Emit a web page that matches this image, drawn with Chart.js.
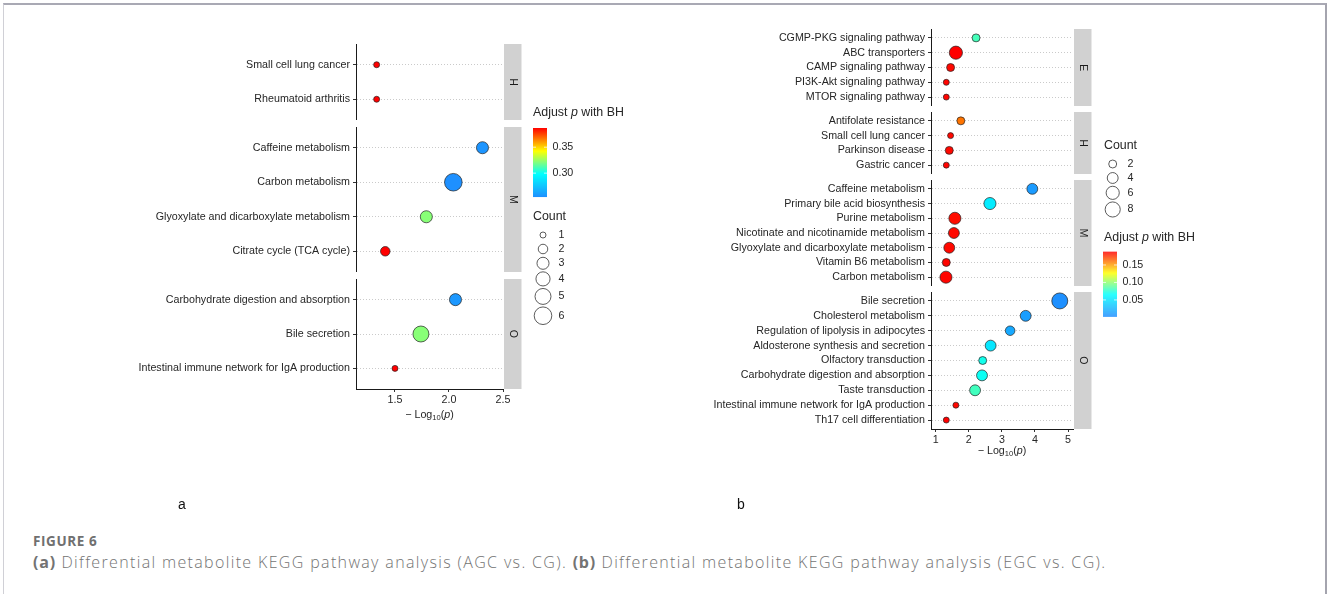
<!DOCTYPE html>
<html>
<head>
<meta charset="utf-8">
<title>Differential metabolite KEGG pathway analysis</title>
<script src="https://cdn.jsdelivr.net/npm/chart.js"></script>
<style>
  body { margin: 0; background: #fff; width: 1328px; height: 594px; overflow: hidden; position: relative; }
  .frame { position: absolute; left: 3px; top: 3px; width: 1321px; height: 640px;
           border-top: 2px solid #a9a9b4; border-left: 1.5px solid #d0d0d6; border-right: 2px solid #a4a4ae; }
  canvas { position: absolute; }
  .fig { position: absolute; left: 33px; top: 532px; font-family: "Open Sans", sans-serif; font-weight: 700;
         font-size: 13.5px; letter-spacing: 0.6px; color: #707070; }
  .cap { position: absolute; left: 33px; top: 551px; font-family: "Open Sans", sans-serif; font-size: 16px;
         font-weight: 300; letter-spacing: 1.35px; color: #737373; white-space: nowrap; }
  .cap b { font-weight: 700; letter-spacing: 0.8px; }
</style>
</head>
<body>
<div class="frame"></div>
<div class="fig">FIGURE 6</div>
<div class="cap"><b>(a)</b> Differential metabolite KEGG pathway analysis (AGC vs. CG). <b>(b)</b> Differential metabolite KEGG pathway analysis (EGC vs. CG).</div>

<script>
// ---- panel a : AGC vs. CG
const aFacets = ['H', 'M', 'O'];
const aPathways = ['Small cell lung cancer', 'Rheumatoid arthritis',
  'Caffeine metabolism', 'Carbon metabolism', 'Glyoxylate and dicarboxylate metabolism', 'Citrate cycle (TCA cycle)',
  'Carbohydrate digestion and absorption', 'Bile secretion', 'Intestinal immune network for IgA production'];
const aClass = ['H', 'H', 'M', 'M', 'M', 'M', 'O', 'O', 'O'];
const aLogP = [1.33, 1.33, 2.31, 2.04, 1.79, 1.41, 2.06, 1.74, 1.50];
const aCount = [1, 1, 3, 6, 3, 2, 3, 5, 1];
const aPadj = [0.387, 0.387, 0.256, 0.254, 0.322, 0.387, 0.257, 0.322, 0.387];
const aXTicks = [1.5, 2.0, 2.5];
const aColorTicks = [0.30, 0.35];
const aCountTicks = [1, 2, 3, 4, 5, 6];

// ---- panel b : EGC vs. CG
const bFacets = ['E', 'H', 'M', 'O'];
const bPathways = ['CGMP-PKG signaling pathway', 'ABC transporters', 'CAMP signaling pathway',
  'PI3K-Akt signaling pathway', 'MTOR signaling pathway',
  'Antifolate resistance', 'Small cell lung cancer', 'Parkinson disease', 'Gastric cancer',
  'Caffeine metabolism', 'Primary bile acid biosynthesis', 'Purine metabolism',
  'Nicotinate and nicotinamide metabolism', 'Glyoxylate and dicarboxylate metabolism',
  'Vitamin B6 metabolism', 'Carbon metabolism',
  'Bile secretion', 'Cholesterol metabolism', 'Regulation of lipolysis in adipocytes',
  'Aldosterone synthesis and secretion', 'Olfactory transduction', 'Carbohydrate digestion and absorption',
  'Taste transduction', 'Intestinal immune network for IgA production', 'Th17 cell differentiation'];
const bClass = ['E', 'E', 'E', 'E', 'E', 'H', 'H', 'H', 'H', 'M', 'M', 'M', 'M', 'M', 'M', 'M',
  'O', 'O', 'O', 'O', 'O', 'O', 'O', 'O', 'O'];
const bLogP = [2.22, 1.61, 1.45, 1.32, 1.32, 1.76, 1.45, 1.41, 1.32,
  3.92, 2.64, 1.58, 1.55, 1.41, 1.32, 1.31,
  4.75, 3.72, 3.25, 2.66, 2.42, 2.40, 2.19, 1.61, 1.32];
const bCount = [2, 6, 2, 1, 1, 2, 1, 2, 1, 4, 5, 5, 4, 4, 2, 5, 9, 4, 3, 4, 2, 4, 4, 1, 1];
const bPadj = [0.082, 0.188, 0.186, 0.187, 0.187, 0.160, 0.186, 0.186, 0.187,
  0.010, 0.055, 0.185, 0.186, 0.186, 0.187, 0.187,
  0.004, 0.012, 0.018, 0.052, 0.070, 0.068, 0.081, 0.186, 0.188];
const bXTicks = [1, 2, 3, 4, 5];
const bColorTicks = [0.05, 0.10, 0.15];
const bCountTicks = [2, 4, 6, 8];

const FAMILY = '"Liberation Sans", Arial, Helvetica, sans-serif';
const TXT = '#262626';
const RAMP = [[30, 144, 255], [0, 255, 255], [255, 255, 0], [255, 0, 0]];

function rampColor(t) {
  t = Math.max(0, Math.min(1, t));
  const s = t * (RAMP.length - 1);
  const i = Math.min(Math.floor(s), RAMP.length - 2);
  const f = s - i;
  const c = RAMP[i].map((v, k) => Math.round(v + (RAMP[i + 1][k] - v) * f));
  return 'rgb(' + c.join(',') + ')';
}

const panels = [
  { facets: aFacets, pathways: aPathways, cls: aClass, logp: aLogP, count: aCount, padj: aPadj,
    xTicks: aXTicks, xDec: 1, colorTicks: aColorTicks, countTicks: aCountTicks,
    originX: 0, plotLeft: 356, plotRight: 503, top: 44.4, unit: 34.5, gap: 6.8,
    xMin: 1.139, xMax: 2.5, rMin: 3, rMax: 8.8, tickPad: 2, titleDy: 25,
    legend: { colorTitle: [533, 113], bar: [533, 128, 14, 69], barLabelX: 552.5,
              countTitle: [533, 217], circleX: 543, firstCircleY: 235, countLabelX: 558.5 },
    tag: ['a', 182, 505] },
  { facets: bFacets, pathways: bPathways, cls: bClass, logp: bLogP, count: bCount, padj: bPadj,
    xTicks: bXTicks, xDec: 0, colorTicks: bColorTicks, countTicks: bCountTicks,
    originX: 600, plotLeft: 931, plotRight: 1073, top: 28.7, unit: 14.8, gap: 6,
    xMin: 0.858, xMax: 5.15, rMin: 3, rMax: 8, tickPad: 2, titleDy: 21,
    legend: { colorTitle: [1104, 238], bar: [1103, 251.7, 14, 64.3], barLabelX: 1122.5,
              countTitle: [1104, 146], circleX: 1112.7, firstCircleY: 164, countLabelX: 1127.5 },
    tag: ['b', 741, 505] }
];

function stripPlugin(text) {
  return {
    id: 'strip',
    afterDraw(chart) {
      const { ctx, chartArea: a } = chart;
      const x = a.right + 1, w = 17.5;
      ctx.save();
      ctx.fillStyle = '#d1d1d1';
      ctx.fillRect(x, a.top, w, a.bottom - a.top);
      ctx.translate(x + w / 2, (a.top + a.bottom) / 2);
      ctx.rotate(Math.PI / 2);
      ctx.fillStyle = '#1a1a1a';
      ctx.font = '10.7px ' + FAMILY;
      ctx.textAlign = 'center';
      ctx.textBaseline = 'middle';
      ctx.fillText(text, 0, 0);
      ctx.restore();
    }
  };
}

function titlePlugin(dy) {
  return {
    id: 'xtitle',
    afterDraw(chart) {
      const { ctx, chartArea: a } = chart;
      const big = '10.7px ' + FAMILY, small = '7.6px ' + FAMILY, ital = 'italic 10.7px ' + FAMILY;
      const parts = [['\u2212 Log', big, 0], ['10', small, 2.6], ['(', big, 0], ['p', ital, 0], [')', big, 0]];
      ctx.save();
      ctx.fillStyle = TXT;
      ctx.textBaseline = 'alphabetic';
      let total = 0;
      parts.forEach(p => { ctx.font = p[1]; total += ctx.measureText(p[0]).width; });
      let x = (a.left + a.right) / 2 - total / 2;
      const y = a.bottom + dy + 3.8;
      parts.forEach(p => {
        ctx.font = p[1];
        ctx.fillText(p[0], x, y + p[2]);
        x += ctx.measureText(p[0]).width;
      });
      ctx.restore();
    }
  };
}

function buildPanel(p) {
  const pMin = Math.min(...p.padj), pMax = Math.max(...p.padj);
  const cMin = Math.min(...p.count), cMax = Math.max(...p.count);
  p.color = v => rampColor((v - pMin) / (pMax - pMin));
  p.radius = c => Math.sqrt(p.rMin * p.rMin + (c - cMin) / (cMax - cMin) * (p.rMax * p.rMax - p.rMin * p.rMin));
  p.pMin = pMin; p.pMax = pMax;

  let top = p.top;
  p.facets.forEach((f, fi) => {
    const idx = p.pathways.map((_, i) => i).filter(i => p.cls[i] === f);
    const labels = idx.map(i => p.pathways[i]);
    const h = Math.round(top + (labels.length + 0.2) * p.unit) - Math.round(top);
    const last = fi === p.facets.length - 1;
    const axisH = last ? 44 : 0;
    const canvas = document.createElement('canvas');
    const w = p.plotRight - p.originX + 24;
    canvas.width = w;
    canvas.height = h + axisH;
    canvas.style.left = p.originX + 'px';
    canvas.style.top = Math.round(top) + 'px';
    document.body.appendChild(canvas);

    const font = { family: FAMILY, size: 10.7 };
    new Chart(canvas, {
      type: 'scatter',
      data: {
        datasets: [{
          data: idx.map((i, k) => ({ x: p.logp[i], y: k })),
          pointRadius: idx.map(i => p.radius(p.count[i])),
          pointBackgroundColor: idx.map(i => p.color(p.padj[i])),
          pointBorderColor: '#222',
          pointBorderWidth: 0.7,
          clip: false
        }]
      },
      options: {
        responsive: false, animation: false, devicePixelRatio: 1, events: [],
        layout: { autoPadding: false,
                  padding: { left: 0, right: w - (p.plotRight - p.originX), top: 0, bottom: 0 } },
        plugins: { legend: { display: false }, tooltip: { enabled: false } },
        scales: {
          x: {
            type: 'linear', min: p.xMin, max: p.xMax, display: last,
            afterBuildTicks: s => { s.ticks = p.xTicks.map(v => ({ value: v })); },
            afterFit: s => { s.height = axisH; s.paddingLeft = 0; s.paddingRight = 0; },
            grid: { drawOnChartArea: false, tickLength: 3, tickColor: '#333', tickWidth: 1 },
            border: { color: '#1a1a1a', width: 1 },
            ticks: { font: font, color: TXT, padding: p.tickPad, maxRotation: 0, autoSkip: false,
                     callback: v => v.toFixed(p.xDec) }
          },
          y: {
            type: 'linear', reverse: true, min: -0.6, max: labels.length - 0.4,
            afterBuildTicks: s => { s.ticks = labels.map((_, k) => ({ value: k })); },
            afterFit: s => { s.width = p.plotLeft - p.originX; s.paddingTop = 0; s.paddingBottom = 0; },
            grid: { color: '#bdbdbd', lineWidth: 0.8, tickLength: 3, tickColor: '#333', tickWidth: 1 },
            border: { color: '#1a1a1a', width: 1, dash: [1, 2] },
            ticks: { font: font, color: TXT, padding: 3, autoSkip: false, callback: (v, k) => labels[k] }
          }
        }
      },
      plugins: last ? [stripPlugin(f), titlePlugin(p.titleDy)] : [stripPlugin(f)]
    });
    top += (labels.length + 0.2) * p.unit + p.gap;
  });
}

function drawLegend(ctx, p) {
  const L = p.legend;
  ctx.fillStyle = TXT;
  ctx.textBaseline = 'middle';
  ctx.textAlign = 'left';

  // colour bar title: Adjust p with BH
  const tf = '12.4px ' + FAMILY, ti = 'italic 12.4px ' + FAMILY;
  let x = L.colorTitle[0];
  [['Adjust ', tf], ['p', ti], [' with BH', tf]].forEach(s => {
    ctx.font = s[1];
    ctx.fillText(s[0], x, L.colorTitle[1]);
    x += ctx.measureText(s[0]).width;
  });

  const [bx, by, bw, bh] = L.bar;
  for (let k = 0; k < bh; k++) {
    ctx.fillStyle = p.color(p.pMax - (k + 0.5) / bh * (p.pMax - p.pMin));
    ctx.fillRect(bx, by + k, bw, 1.05);
  }
  ctx.font = '10.7px ' + FAMILY;
  p.colorTicks.forEach(v => {
    const y = by + bh - (v - p.pMin) / (p.pMax - p.pMin) * bh;
    ctx.strokeStyle = 'rgba(255,255,255,0.9)';
    ctx.lineWidth = 0.8;
    ctx.beginPath();
    ctx.moveTo(bx, y); ctx.lineTo(bx + 3, y);
    ctx.moveTo(bx + bw - 3, y); ctx.lineTo(bx + bw, y);
    ctx.stroke();
    ctx.fillStyle = TXT;
    ctx.fillText(v.toFixed(2), L.barLabelX, y);
  });

  // size legend
  ctx.font = tf;
  ctx.fillText('Count', L.countTitle[0], L.countTitle[1]);
  ctx.font = '10.7px ' + FAMILY;
  const keyH = c => Math.max(14, 2 * p.radius(c) + 2.5);
  let y = L.firstCircleY;
  p.countTicks.forEach((c, i) => {
    if (i > 0) y += (keyH(p.countTicks[i - 1]) + keyH(c)) / 2;
    ctx.beginPath();
    ctx.arc(L.circleX, y, p.radius(c), 0, Math.PI * 2);
    ctx.fillStyle = '#fff';
    ctx.fill();
    ctx.strokeStyle = '#333';
    ctx.lineWidth = 0.8;
    ctx.stroke();
    ctx.fillStyle = TXT;
    ctx.fillText(String(c), L.countLabelX, y);
  });
}

panels.forEach(buildPanel);

const overlay = document.createElement('canvas');
overlay.width = 1328; overlay.height = 594;
overlay.style.left = '0px'; overlay.style.top = '0px';
overlay.style.pointerEvents = 'none';
document.body.appendChild(overlay);
const octx = overlay.getContext('2d');
panels.forEach(p => {
  drawLegend(octx, p);
  octx.font = '14px ' + FAMILY;
  octx.fillStyle = '#111';
  octx.textAlign = 'center';
  octx.textBaseline = 'middle';
  octx.fillText(p.tag[0], p.tag[1], p.tag[2]);
});
</script>
</body>
</html>
